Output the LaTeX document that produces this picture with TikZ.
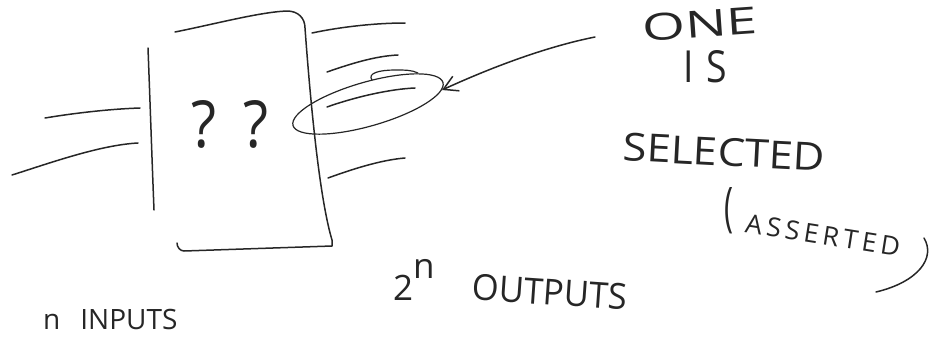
\documentclass[tikz,border=0pt]{standalone}
\usepackage{fontspec}
\setmainfont{Open Sans}
\usepackage{graphicx}
\usetikzlibrary{arrows.meta}
\newcommand{\spacedword}{A\kern.16em S\kern.16em S\kern.16em E\kern.16em R\kern.16em T\kern.16em E\kern.16em D}
\begin{document}
\begin{tikzpicture}[x=1pt,y=-1pt,
  pen/.style={line width=1.5pt, draw=black!85, line cap=round, line join=round},
  thinpen/.style={pen, line width=1.2pt},
  word/.style={inner sep=0pt, text=black!85}]
\useasboundingbox (0,0) rectangle (945,341);
% box
\draw[pen] (148,48) .. controls (150,100) and (152,160) .. (154,210);
\draw[pen] (175,32) .. controls (215,24) and (260,12) .. (287,11)
  .. controls (298,11) and (305,18) .. (305,28)
  .. controls (311,110) and (320,200) .. (332,240) -- (332,246) -- (184,251)
  .. controls (180,251) and (177,247) .. (177,243);
% inputs
\draw[pen] (45,118) .. controls (75,113) and (110,109) .. (140,108);
\draw[pen] (12,175) .. controls (50,163) and (100,145) .. (138,143);
% outputs
\draw[pen] (312,33) .. controls (340,27) and (375,23) .. (405,23);
\draw[pen] (327,72) .. controls (350,64) and (375,56) .. (398,55);
\draw[pen] (327,107) .. controls (355,97) and (390,89) .. (415,88);
\draw[pen] (328,178) .. controls (350,170) and (380,160) .. (405,158);
% selection loop
\draw[thinpen, rotate around={16:(368,104)}] (368,104) ellipse (78 and 22);
\draw[thinpen] (372,80) .. controls (367,73) and (380,70) .. (395,70)
  .. controls (405,70) and (412,70) .. (418,73);
% arrow
\coordinate (astart) at (595,37);
\coordinate (atip) at (442,90);
\draw[pen, -{Straight Barb[length=14pt, width=16pt]}] (astart) .. controls (545,47) and (490,68) .. (atip);
% texts
\node[word] (qq) at (230,124) {\resizebox{76pt}{47pt}{?\hspace{0.45em}?}};
\node[word, rotate=4] (one) at (700,24) {\resizebox{115pt}{27pt}{ONE}};
\node[word] (is) at (705,67) {\resizebox{44pt}{32pt}{I\hspace{0.35em}S}};
\node[word, rotate=-3] (sel) at (724,152) {\resizebox{202pt}{28pt}{SELECTED}};
\node[word] (lpar) at (729,211) {\resizebox{9pt}{38pt}{(}};
\node[word, rotate=-9] (ass) at (823,235) {\resizebox{156pt}{19pt}{\spacedword}};
\draw[pen] (924,238) .. controls (936,258) and (918,282) .. (876,292);
\node[word, rotate=-4] (out) at (550,292) {\resizebox{155pt}{26pt}{OUTPUTS}};
\node[word, anchor=base west] (two) at (393,300) {\fontsize{35pt}{35pt}\selectfont 2\raisebox{22pt}{n}};
\node[word, anchor=base west] (inp) at (43,329) {\fontsize{28pt}{28pt}\selectfont n\hspace{20pt}INPUTS};
\end{tikzpicture}
\end{document}
